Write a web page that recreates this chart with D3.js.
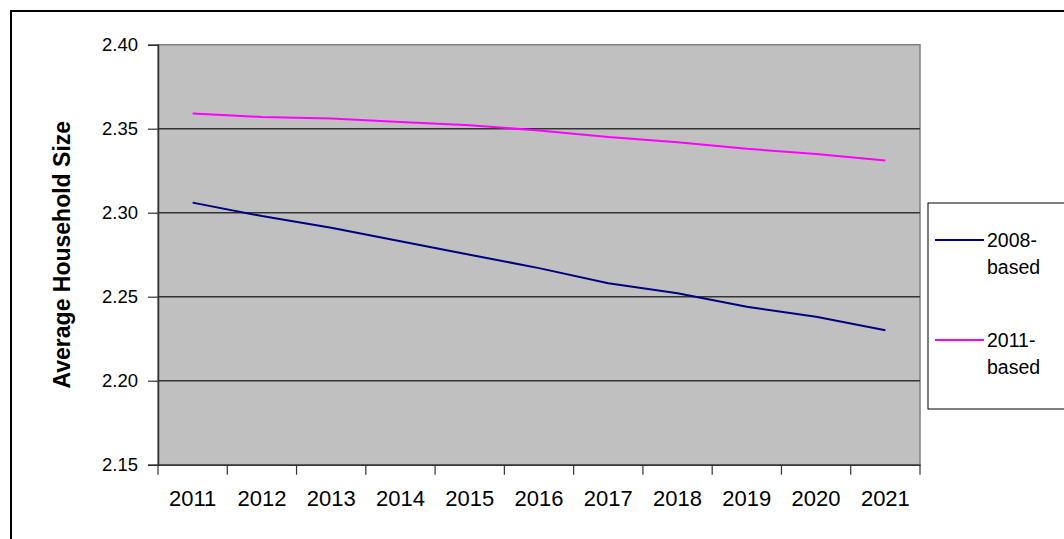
<!DOCTYPE html>
<html>
<head>
<meta charset="utf-8">
<script src="https://cdn.jsdelivr.net/npm/d3@7"></script>
<style>
  body { margin: 0; background: #fff; }
  svg text { font-family: "Liberation Sans", Arial, sans-serif; }
</style>
</head>
<body>
<div id="chart"></div>
<script>
// chart data
var years = ["2011","2012","2013","2014","2015","2016","2017","2018","2019","2020","2021"];
var based2008 = [2.306, 2.298, 2.291, 2.283, 2.275, 2.267, 2.258, 2.252, 2.244, 2.238, 2.230];
var based2011 = [2.359, 2.357, 2.356, 2.354, 2.352, 2.349, 2.345, 2.342, 2.338, 2.335, 2.331];
var yTicks = [2.15, 2.20, 2.25, 2.30, 2.35, 2.40];
var seriesNames = [["2008-", "based"], ["2011-", "based"]];
var seriesColors = ["#000080", "#ff00ff"];

var W = 1064, H = 539;
var plot = {left: 158, top: 44.7, right: 920, bottom: 464.7};

var svg = d3.select("#chart").append("svg")
  .attr("width", W)
  .attr("height", H);

svg.append("rect").attr("width", W).attr("height", H).attr("fill", "#fff");

// outer chart frame (runs off the right and bottom edges)
svg.append("rect")
  .attr("x", 11).attr("y", 11)
  .attr("width", 1100).attr("height", 600)
  .attr("fill", "none")
  .attr("stroke", "#000")
  .attr("stroke-width", 2);

var x = d3.scaleBand().domain(years).range([plot.left, plot.right]);
var y = d3.scaleLinear().domain([2.15, 2.40]).range([plot.bottom, plot.top]);

// plot area
svg.append("rect")
  .attr("x", plot.left).attr("y", plot.top)
  .attr("width", plot.right - plot.left)
  .attr("height", plot.bottom - plot.top)
  .attr("fill", "#c0c0c0")
  .attr("stroke", "#808080")
  .attr("stroke-width", 1.5);

// gridlines
svg.append("g")
  .selectAll("line")
  .data(yTicks.slice(1, -1))
  .enter().append("line")
  .attr("x1", plot.left).attr("x2", plot.right)
  .attr("y1", function(d) { return y(d); })
  .attr("y2", function(d) { return y(d); })
  .attr("stroke", "#333")
  .attr("stroke-width", 1.4);

// y axis
var yAxis = svg.append("g")
  .attr("transform", "translate(" + plot.left + ",0)")
  .call(d3.axisLeft(y).tickValues(yTicks).tickFormat(d3.format(".2f")).tickSize(10).tickPadding(10));
yAxis.select(".domain").attr("stroke", "#333").attr("stroke-width", 1.5);
yAxis.selectAll(".tick line").attr("stroke", "#333").attr("stroke-width", 1.2);
yAxis.selectAll(".tick text").attr("font-size", 18.5).attr("fill", "#000")
  .attr("font-family", "Liberation Sans, Arial, sans-serif");

// x axis: ticks on category boundaries
var xAxis = svg.append("g")
  .attr("transform", "translate(0," + plot.bottom + ")")
  .call(d3.axisBottom(x).tickSize(0).tickPadding(26));
xAxis.select(".domain").attr("stroke", "#333").attr("stroke-width", 1.5);
xAxis.selectAll(".tick text").attr("font-size", 22).attr("fill", "#000")
  .attr("font-family", "Liberation Sans, Arial, sans-serif");
xAxis.append("g").selectAll("line")
  .data(years.concat(["end"]))
  .enter().append("line")
  .attr("x1", function(d, i) { return i < years.length ? x(d) : plot.right; })
  .attr("x2", function(d, i) { return i < years.length ? x(d) : plot.right; })
  .attr("y1", 0).attr("y2", 10)
  .attr("stroke", "#333").attr("stroke-width", 1.2);

// y axis title
svg.append("text")
  .attr("transform", "translate(70," + ((plot.top + plot.bottom) / 2) + ") rotate(-90)")
  .attr("text-anchor", "middle")
  .attr("font-size", 23)
  .attr("font-weight", "bold")
  .text("Average Household Size");

// lines
var line = d3.line()
  .x(function(d, i) { return x(years[i]) + x.bandwidth() / 2; })
  .y(function(d) { return y(d); });

[based2008, based2011].forEach(function(s, k) {
  svg.append("path")
    .datum(s)
    .attr("d", line)
    .attr("fill", "none")
    .attr("stroke", seriesColors[k])
    .attr("stroke-width", 2);
});

// legend
var legend = svg.append("g");
legend.append("rect")
  .attr("x", 928).attr("y", 203)
  .attr("width", 200).attr("height", 206)
  .attr("fill", "#fff")
  .attr("stroke", "#000")
  .attr("stroke-width", 1);

seriesNames.forEach(function(name, k) {
  var ly = 240 + k * 100;
  legend.append("line")
    .attr("x1", 935).attr("x2", 984)
    .attr("y1", ly).attr("y2", ly)
    .attr("stroke", seriesColors[k])
    .attr("stroke-width", 2);
  legend.append("text")
    .attr("x", 987).attr("y", ly + 7)
    .attr("font-size", 19.5)
    .text(name[0]);
  legend.append("text")
    .attr("x", 987).attr("y", ly + 34)
    .attr("font-size", 19.5)
    .text(name[1]);
});
</script>
</body>
</html>
